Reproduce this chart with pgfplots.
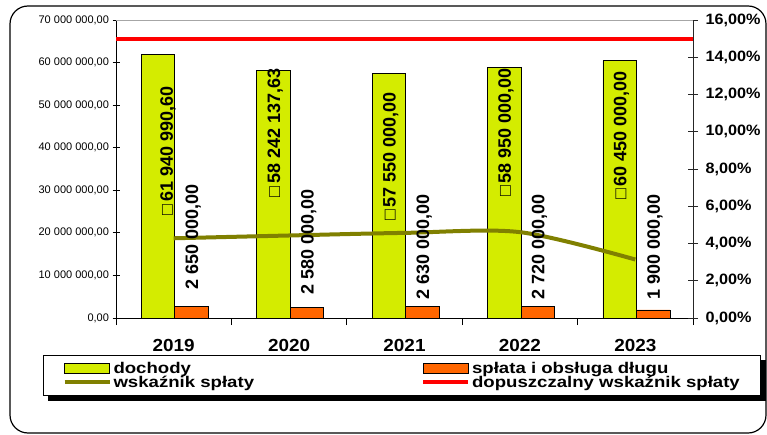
\documentclass[border=0pt]{standalone}
\usepackage{fontspec}
\setmainfont{Liberation Sans}
\newfontfamily\widef[FakeStretch=1.08]{Liberation Sans}
\newfontfamily\legf[FakeStretch=1.2]{Liberation Sans}
\usepackage{pgfplots}
\pgfplotsset{compat=1.18}
\pgfdeclarelayer{background}
\pgfsetlayers{background,main}
\definecolor{doch}{RGB}{212,236,0}
\definecolor{spl}{RGB}{255,102,0}
\definecolor{oliv}{RGB}{128,128,0}
\pgfplotsset{base/.style={at={(116pt,116pt)}, anchor=south west, scale only axis,
  width=577pt, height=298pt, xmin=-0.5, xmax=4.5}}
\begin{document}
\begin{tikzpicture}
\useasboundingbox (0,0) rectangle (767pt,434pt);
\draw[line width=1.2pt, rounded corners=18pt] (10pt,1pt) rectangle (766pt,428pt);
% --- bars, left axis
\begin{axis}[base, ymin=0, ymax=70000000,
  axis x line*=bottom, axis y line*=left,
  axis line style={black, line width=0.8pt},
  tick align=center, major tick length=7pt,
  tick style={black, line width=0.8pt},
  scaled y ticks=false,
  ytick={0,10000000,20000000,30000000,40000000,50000000,60000000,70000000},
  yticklabels={{0,00},{10 000 000,00},{20 000 000,00},{30 000 000,00},{40 000 000,00},{50 000 000,00},{60 000 000,00},{70 000 000,00}},
  yticklabel style={font=\fontsize{11}{11}\selectfont},
  xtick={-0.5,0.5,1.5,2.5,3.5,4.5},
  x tick label as interval,
  xticklabels={2019,2020,2021,2022,2023},
  xticklabel style={font=\widef\bfseries\fontsize{17.5}{17.5}\selectfont, yshift=-11pt},
  ybar, bar width=0.29]
\addplot[fill=doch, draw=black, line width=0.8pt, bar shift=-0.135]
  coordinates {(0,61940990.60) (1,58242137.63) (2,57550000) (3,58950000) (4,60450000)};
\addplot[fill=spl, draw=black, line width=0.8pt, bar shift=0.155]
  coordinates {(0,2650000) (1,2580000) (2,2630000) (3,2720000) (4,1900000)};
\end{axis}
% --- lines, right axis
\begin{axis}[base, ymin=0, ymax=16,
  axis y line*=right, axis x line*=top,
  x axis line style={gray!70, line width=0.8pt},
  y axis line style={black!85, line width=0.8pt},
  xtick=\empty,
  ytick={0,2,4,6,8,10,12,14,16},
  yticklabels={{0,00\%},{2,00\%},{4,00\%},{6,00\%},{8,00\%},{10,00\%},{12,00\%},{14,00\%},{16,00\%}},
  tick align=center, major tick length=10pt,
  tick style={black!85, line width=0.8pt},
  yticklabel style={font=\widef\bfseries\fontsize{15}{15}\selectfont, xshift=4pt},
  legend columns=2,
  legend cell align=left,
  legend style={name=leg, at={(axis description cs:-0.1265,-0.124)}, anchor=north west,
    draw=black, line width=1pt, fill=white,
    font=\legf\bfseries\fontsize{15.5}{15.5}\selectfont,
    inner xsep=19pt, inner ysep=6pt,
    nodes={inner ysep=0.6pt, inner xsep=2pt},
    /tikz/every even column/.append style={column sep=165pt}}]
\addlegendimage{legend image code/.code={\draw[fill=doch, draw=black, line width=0.8pt] (0pt,-5pt) rectangle (45pt,5pt);}}
\addlegendentry{dochody}
\addlegendimage{legend image code/.code={\draw[fill=spl, draw=black, line width=0.8pt] (0pt,-5pt) rectangle (45pt,5pt);}}
\addlegendentry{spłata i obsługa długu}
\addplot[oliv, line width=4pt, smooth,
  legend image code/.code={\draw[oliv, line width=4pt] (0pt,0pt) -- (45pt,0pt);}]
  coordinates {(0,4.28) (1,4.43) (2,4.57) (3,4.61) (4,3.14)};
\addlegendentry{wskaźnik spłaty}
\addplot[red, line width=4pt,
  legend image code/.code={\draw[red, line width=4pt] (0pt,0pt) -- (45pt,0pt);}]
  coordinates {(-0.5,15) (4.5,15)};
\addlegendentry{dopuszczalny wskaźnik spłaty}
\end{axis}
\begin{pgfonlayer}{background}
\fill[black] ([xshift=5pt,yshift=-5pt]leg.south west) rectangle ([xshift=5pt,yshift=-5pt]leg.north east);
\end{pgfonlayer}
% --- data labels
\begin{axis}[base, ymin=0, ymax=70000000, hide axis, clip=false]
\addplot[draw=none, mark=none, nodes near coords, point meta=explicit symbolic,
  nodes near coords style={rotate=90, anchor=center, inner sep=0pt,
    font=\bfseries\fontsize{18}{18}\selectfont}]
  table[col sep=semicolon, row sep=\\, meta=lab] {
x;y;lab\\
-0.05;39230000;□\,61 940 990,60\\
0.88;43460000;□\,58 242 137,63\\
1.88;37940000;□\,57 550 000,00\\
2.88;43580000;□\,58 950 000,00\\
3.88;42870000;□\,60 450 000,00\\
};
\addplot[draw=none, mark=none, nodes near coords, point meta=explicit symbolic,
  nodes near coords style={rotate=90, anchor=west, inner sep=0pt,
    font=\bfseries\fontsize{18}{18}\selectfont}]
  table[col sep=semicolon, row sep=\\, meta=lab] {
x;y;lab\\
0.17;6580000;2 650 000,00\\
1.17;5400000;2 580 000,00\\
2.17;4230000;2 630 000,00\\
3.17;4390000;2 720 000,00\\
4.17;4390000;1 900 000,00\\
};
\end{axis}
\end{tikzpicture}
\end{document}
